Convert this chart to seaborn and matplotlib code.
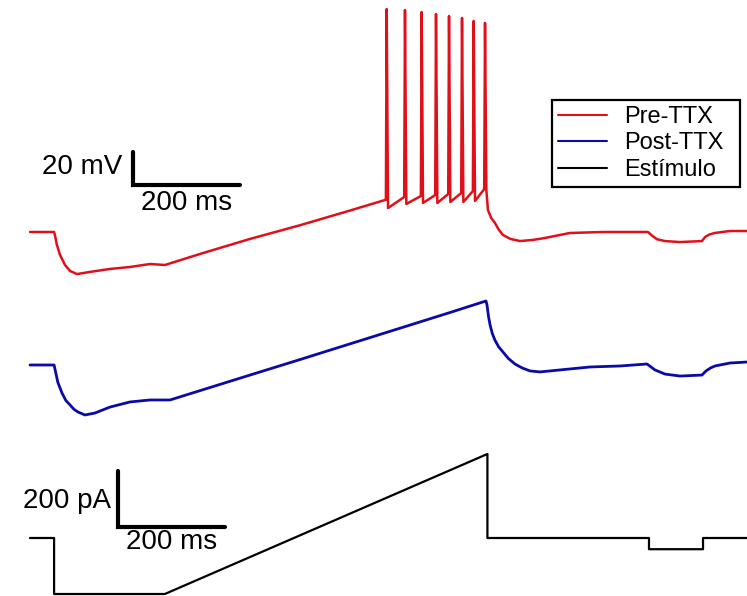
import numpy as np
import pandas as pd
import matplotlib
matplotlib.use("Agg")
import matplotlib.pyplot as plt
import seaborn as sns

# --- data (time in ms, voltage in mV, current in pA) ---
# Pre-TTX, before the spikes
pre_t = [0, 45, 47, 50, 56.1, 65.4, 74.8, 87.9, 112.1, 149.5, 186.9, 224.3, 252.3,
         317.8, 411.2, 504.7, 598.1, 663.6]
pre_v = [-65, -65, -67.5, -72.5, -78.9, -85.0, -88.6, -90.5, -89.2, -87.4, -86.2, -84.4,
         -85.0, -78.3, -69.2, -60.9, -52.0, -45.6]

# action potentials during the ramp
spike_t = [666.7, 700.9, 732.1, 758.9, 783.2, 807.5, 829.3, 850.5]
spike_peak = [70.1, 69.5, 68.3, 67.1, 65.9, 64.7, 62.9, 61.7]
spike_thr = [-45.6, -43.8, -43.2, -42.6, -42.0, -41.4, -40.2, -39.0]
spike_ahp = [-50.5, -48.0, -47.4, -47.4, -46.8, -46.8, -46.2, -39.5]

# Pre-TTX after the ramp
post_ramp_t = [856, 862, 869, 876, 884, 898, 916, 940, 963, 1009, 1071, 1155, 1162,
               1172, 1187, 1215, 1256, 1262, 1270, 1280, 1308, 1340]
post_ramp_v = [-51.7, -56.5, -59.5, -63.5, -66.8, -69.2, -70.5, -69.8, -68.6, -65.6,
               -65.0, -65.0, -67.0, -69.4, -70.5, -71.1, -70.5, -68.0, -66.5, -65.6,
               -64.4, -64.4]

# Post-TTX
ttx_t = [0, 45, 47, 52, 59.8, 67, 74.8, 82, 89.7, 102.8, 121.5, 149.5, 186.9, 224.3,
         261.7, 411.2, 504.7, 598.1, 691.6, 785.0, 852.3, 854.2, 857, 860.0, 864, 869.0,
         876, 884.0, 894, 906.5, 920, 934.6, 953.3, 990.7, 1046.7, 1102.8, 1153.3,
         1160, 1168.2, 1186.9, 1215.0, 1256.0, 1263.6, 1272, 1280.4, 1308.4, 1340.2]
ttx_v = [-65, -65, -68.0, -75.5, -82.0, -86.5, -89.2, -91.8, -93.5, -95.3, -94.1,
         -90.5, -87.4, -86.2, -86.2, -71.1, -61.7, -52.2, -42.7, -33.2, -26.2, -28.6,
         -35.5, -40.8, -45.8, -49.9, -54.0, -57.1, -61.0, -64.4, -66.8, -68.6, -69.2,
         -68.0, -66.2, -65.6, -64.4, -66.0, -68.0, -70.5, -71.7, -71.1, -68.6, -66.8,
         -65.6, -63.8, -63.2]

# stimulus protocol
stim_t = [0, 45, 45, 252, 855, 855, 1157, 1157, 1258, 1258, 1340]
stim_i = [0, 0, -200, -200, 300, 0, 0, -40, -40, 0, 0]

labels = ["Pre-TTX", "Post-TTX", "Estímulo"]
colors = ["#E0101A", "#0A0AA5", "black"]

TTX_OFFSET = -80.6   # vertical shift of the Post-TTX trace (display only)

# build the Pre-TTX trace with its spikes
red_t = list(pre_t)
red_v = list(pre_v)
for t, pk, thr, ahp in zip(spike_t, spike_peak, spike_thr, spike_ahp):
    red_t += [t - 1.5, t, t + 2.5]
    red_v += [thr, pk, ahp]
red_t += post_ramp_t
red_v += post_ramp_v

pre_df = pd.DataFrame({"t": red_t, "v": red_v})
ttx_df = pd.DataFrame({"t": ttx_t, "v": np.array(ttx_v) + TTX_OFFSET})
stim_df = pd.DataFrame({"t": stim_t, "i": stim_i})

sns.set_style("white")
plt.rcParams["font.family"] = ["Liberation Sans", "DejaVu Sans"]
plt.rcParams["text.color"] = "black"

fig = plt.figure(figsize=(7.47, 5.96), dpi=100)
ax_v = fig.add_axes([0, 0, 1, 1])
ax_i = ax_v.twinx()

sns.lineplot(data=pre_df, x="t", y="v", ax=ax_v, color=colors[0], lw=1.8,
             sort=False, estimator=None, label=labels[0], legend=False)
sns.lineplot(data=ttx_df, x="t", y="v", ax=ax_v, color=colors[1], lw=2.0,
             sort=False, estimator=None, label=labels[1], legend=False)
sns.lineplot(data=stim_df, x="t", y="i", ax=ax_i, color=colors[2], lw=1.6,
             sort=False, estimator=None, label=labels[2], legend=False)

ax_v.set_xlim(-56.1, 1340.2)
ax_v.set_ylim(-285.6, 75.6)
ax_i.set_ylim(-207.1, 1921)

# scale bars
ax_v.plot([192.5, 192.5, 392.5], [-16.5, -36.5, -36.5], color="black", lw=3,
          solid_joinstyle="miter")
ax_v.text(173, -25.6, "20 mV", ha="right", va="center", fontsize=20, color="black")
ax_v.text(292.5, -47.4, "200 ms", ha="center", va="center", fontsize=20, color="black")

ax_i.plot([164.5, 164.5, 364.5], [239.3, 39.3, 39.3], color="black", lw=3,
          solid_joinstyle="miter")
ax_i.text(150.5, 132, "200 pA", ha="right", va="center", fontsize=20, color="black")
ax_i.text(264.5, -14.3, "200 ms", ha="center", va="center", fontsize=20, color="black")

for ax in (ax_v, ax_i):
    ax.axis("off")

handles = ax_v.get_lines()[:2] + ax_i.get_lines()[:1]
leg = ax_i.legend(handles, labels, loc="upper left",
                  bbox_to_anchor=(552 / 747, 1 - 100 / 596, 188 / 747, 0),
                  bbox_transform=fig.transFigure, mode="expand",
                  fontsize=17, frameon=True, fancybox=False, framealpha=1,
                  edgecolor="black", borderpad=0.25, labelspacing=0.19,
                  handlelength=2.1, handletextpad=0.7, borderaxespad=0)
leg.get_frame().set_linewidth(1.6)
for h in leg.legend_handles:
    h.set_linewidth(1.5)
for txt in leg.get_texts():
    txt.set_color("black")

fig.savefig("out.png", dpi=100)
